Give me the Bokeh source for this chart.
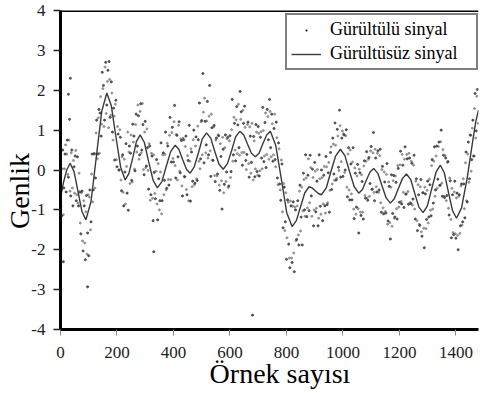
import numpy as np
from bokeh.plotting import figure
from bokeh.models import FixedTicker, Span, Legend, LegendItem, Range1d
from bokeh.embed import file_html
from bokeh.resources import INLINE

# ---------------- data ----------------
x_ticks = [0, 200, 400, 600, 800, 1000, 1200, 1400]
x_tick_labels = ["0", "200", "400", "600", "800", "1000", "1200", "1400"]
y_ticks = [-4, -3, -2, -1, 0, 1, 2, 3, 4]
y_tick_labels = ["-4", "-3", "-2", "-1", "0", "1", "2", "3", "4"]

# noise-free signal
clean_x = [0, 11, 22, 34, 48, 62, 76, 90, 108, 127, 146, 164, 180, 196, 213, 229,
           242, 256, 269, 282, 297, 312, 328, 343, 359, 374, 390, 406, 419, 432, 446, 459,
           473, 488, 502, 517, 532, 546, 561, 576, 591, 606, 620, 635, 649, 662, 676, 690,
           703, 716, 730, 743, 762, 782, 801, 820, 835, 850, 865, 880, 891, 902, 913, 924,
           941, 957, 974, 991, 1007, 1023, 1040, 1056, 1069, 1082, 1096, 1109, 1124, 1138,
           1153, 1168, 1182, 1196, 1211, 1225, 1240, 1254, 1269, 1284, 1299, 1314, 1330,
           1345, 1359, 1373, 1388, 1402, 1420, 1440, 1460, 1470, 1480]
clean_y = [-0.7, -0.3, 0.0, 0.17, -0.04, -0.54, -1.04, -1.25, -0.79, 0.34, 1.47, 1.93,
           1.61, 0.84, 0.07, -0.25, -0.09, 0.31, 0.72, 0.88, 0.69, 0.21, -0.26, -0.45,
           -0.29, 0.08, 0.46, 0.62, 0.52, 0.27, 0.02, -0.08, 0.07, 0.42, 0.78, 0.93,
           0.80, 0.47, 0.15, 0.02, 0.16, 0.49, 0.83, 0.97, 0.88, 0.65, 0.42, 0.33,
           0.42, 0.65, 0.88, 0.97, 0.62, -0.23, -1.07, -1.42, -1.27, -0.92, -0.57, -0.42,
           -0.45, -0.52, -0.59, -0.62, -0.45, -0.05, 0.35, 0.52, 0.36, -0.03, -0.42, -0.58,
           -0.49, -0.27, -0.05, 0.04, -0.09, -0.39, -0.70, -0.83, -0.72, -0.47, -0.21, -0.1,
           -0.24, -0.58, -0.93, -1.07, -0.90, -0.48, -0.05, 0.12, -0.07, -0.54, -1.02, -1.21,
           -0.95, -0.2, 0.75, 1.2, 1.5]

# noisy signal, samples 0, 4, 8, ...
noisy_a_y = [
    -0.4, -1.15, 0.5, -0.45, 0.4,   -0.55, 0.75, -0.18, 1.27, -0.65,
    0.5, -0.9, 0.08, 0.35, -0.77,   0.33, -0.9, -0.55, -1.6, -0.53,
    -2.03, -0.9, -2.25, -0.64, -1.58,   -2.15, -0.5, -1.3, 0.4, -0.5,
    0.41, -0.2, 1.25, 0.4, 1.52,   1.43, 0.85, 2.45, 2.12, 1.25,
    2.7, 1.63, 2.5, 2.72, 1.32,   2.21, 0.95, 1.55, 0.25, 1.75,
    0.08, 0.9, 0.0, 0.82, -0.52,   0.38, -0.9, -0.05, 0.66, -0.58,
    -1.01, 0.6, 0.42, -0.26, 1.15,   0.85, -0.02, 1.4, 0.6, 1.36,
    0.38, 1.66, 0.5, 1.14, -0.12,   1.22, 0.1, 0.56, -0.48, 0.6,
    -0.62, 0.35, -1.27, -0.06, -0.72,   0.26, -1.25, -0.22, -0.77, 0.68,
    -0.77, 0.43, -0.26, 0.95, -0.46,   0.6, -0.38, 1.32, 0.2, 1.07,
    0.2, 1.62, -0.2, 0.87, 0.33,   1.21, -0.07, 0.74, -0.65, 0.76,
    -0.17, 0.85, -0.62, 0.24, 1.12,   -0.78, 0.45, -0.28, 1.0, -0.33,
    0.83, -0.26, 0.76, 1.68, 0.28,   1.24, 2.42, 0.18, 1.22, 0.63,
    1.72, 0.38, 2.12, -0.16, 1.06,   0.24, 1.12, -0.29, 0.8, -0.1,
    0.86, -0.51, 0.34, -0.98, 0.52,   -0.36, 0.88, -0.05, 0.82, -0.4,
    0.86, -0.04, 1.77, 0.38, 1.17,   0.23, 1.59, 1.13, 0.56, 1.97,
    1.46, 0.12, 1.17, 1.6, 0.24,   0.39, 1.2, -0.18, 0.85, 0.19,
    -3.64, 0.84, -0.17, 1.14, -0.04,   1.09, -0.15, 0.82, 0.3, 1.57,
    0.21, 1.19, 0.06, 1.52, 0.76,   1.77, 0.56, 1.4, 0.22, 1.04,
    0.26, 1.2, -0.2, 0.68, -0.35,   -0.76, 0.15, -1.45, -0.43, -1.3,
    -2.24, -0.75, -1.86, -2.45, -0.9,   -2.32, -0.8, -2.55, -1.0, -1.74,
    -0.77, -1.88, -0.38, -1.18, -1.88,   -0.08, -1.0, 0.38, -1.17, -0.13,
    -1.02, 0.37, -0.65, 0.02, -1.4,   0.19, -1.05, -0.28, -1.4, 0.38,
    -0.91, 0.0, -1.27, -0.13, -0.9,   0.34, -0.87, -0.07, -1.06, 0.44,
    -0.49, 0.8, -0.1, 1.18, -0.25,   1.02, 0.07, 1.5, -0.18, 0.8,
    -0.16, 0.88, 0.0, 1.01, -0.67,   0.56, -0.75, 0.15, -0.75, 0.56,
    -1.22, -0.08, -0.93, 0.14, -1.58,   -0.07, -1.14, -0.29, -1.23, 0.23,
    -0.71, 0.46, -0.76, 0.31, -0.34,   0.59, -0.48, 0.94, -0.77, 0.3,
    -0.55, 0.48, -0.5, 0.52, -1.06,   0.09, -1.1, -0.3, -1.08, 0.16,
    -1.28, -0.41, -1.73, -0.12, -1.09,   -0.14, -1.18, -0.31, -1.23, 0.04,
    -0.81, 0.47, -0.85, 0.12, -0.94,   0.58, -0.6, 0.28, -0.86, 0.3,
    -0.84, 0.17, -0.73, 0.37, -1.23,   -0.22, -1.52, -0.62, -1.39, -0.24,
    -1.66, -0.57, -1.95, -0.6, -1.24,   -0.28, -1.18, -0.37, -1.15, 0.26,
    -0.83, 0.58, -0.5, 0.6, -0.23,   0.7, -0.38, 1.0, -0.66, 0.37,
    -0.69, 0.3, -0.64, 0.21, -1.13,   -0.27, -1.7, -0.62, -1.62, -0.28,
    -1.71, -0.58, -2.0, -0.62, -1.4,   -0.35, -1.3, -0.35, -1.2, 0.45,
    -0.8, 0.7, -0.22, 0.87, 0.26,   1.25, 0.35, 1.92, 0.98, 2.02,
]
# noisy signal, samples 2, 6, 10, ...
noisy_b_y = [
    -0.92, 0.03, -1.12, 0.03, 0.63,   0.4, -0.11, 0.75, -0.53, 0.43,
    -0.45, 0.24, -0.58, 0.49, -0.62,   -0.83, -0.08, -1.33, -0.57, -1.78,
    -0.77, -1.83, -1.05, -2.11, -0.62,   -0.68, -1.5, -0.1, -0.8, 0.4,
    -0.45, 0.93, 0.28, 1.31, 0.42,   1.84, 1.15, 2.04, 1.09, 2.58,
    1.42, 2.22, 1.06, 2.27, 1.37,   1.93, 0.75, 1.35, 1.65, 0.26,
    1.09, 0.0, 1.01, -0.25, 0.33,   -0.56, 0.27, -0.85, 0.09, 0.95,
    0.45, -0.34, 0.88, -0.3, 0.7,   0.02, 1.14, 0.45, 1.63, 0.27,
    1.47, 0.43, 1.67, 0.01, 0.95,   0.06, 1.03, -0.01, 0.66, -0.76,
    0.42, -0.71, 0.38, -0.59, -0.03,   -0.85, 0.16, -1.0, -0.05, -1.1,
    0.38, -0.62, 0.39, -0.5, 0.67,   -0.24, 0.87, -0.24, 0.94, 0.29,
    1.21, 0.11, 0.89, -0.25, 1.12,   -0.03, 0.78, -0.4, 0.8, -0.16,
    0.59, -0.49, 0.36, -0.77, 0.22,   0.53, -0.42, 0.76, -0.37, 0.6,
    -0.22, 1.1, 0.22, 0.03, 1.21,   0.38, 1.45, 1.8, 0.43, 1.23,
    0.3, 1.35, 0.48, 1.4, 0.25,   1.08, -0.14, 0.75, -0.15, 0.88,
    -0.38, 0.66, -0.27, 0.82, -0.57,   0.56, -0.29, 0.78, -0.44, 0.73,
    -0.19, 1.01, 0.22, 1.32, 0.5,   1.26, 0.41, 1.65, 0.37, 1.27,
    0.44, 1.5, 0.44, 1.07, 0.01,   1.14, 0.16, 1.08, -0.08, 1.17,
    -0.25, 0.73, 0.03, 0.95, -0.13,   0.92, -0.02, 0.96, 0.03, 0.99,
    0.35, 1.43, 0.39, 1.34, 0.27,   1.47, 0.33, 1.16, 0.38, 1.4,
    0.08, 0.81, -0.37, 0.53, -0.5,   0.25, -1.05, -0.34, -1.52, -0.57,
    -1.7, -0.81, -2.21, -0.78, -2.21,   -0.91, -2.08, -0.93, -1.77, -0.9,
    -1.63, -0.53, -1.53, -0.43, -1.03,   -0.24, -1.16, -0.2, -0.95, 0.28,
    -0.82, 0.06, -1.16, -0.19, -1.0,   -0.03, -0.96, 0.01, -1.21, -0.22,
    -1.11, -0.19, -0.85, 0.09, -1.08,   0.08, -0.82, 0.19, -0.51, 0.58,
    -0.35, 0.65, -0.26, 0.62, -0.21,   0.85, -0.01, 1.11, 0.21, 0.98,
    0.91, -0.06, 0.86, -0.43, 0.4,   -0.5, 0.5, -0.6, 0.2, -0.98,
    0.05, -1.11, -0.15, -0.97, 0.02,   -1.06, -0.12, -1.06, 0.1, -0.64,
    0.22, -0.7, 0.27, -0.66, 0.48,   -0.49, 0.43, -0.56, 0.52, -0.42,
    0.42, -0.56, 0.36, -0.82, 0.01,   -0.95, -0.05, -1.04, -0.11, -1.36,
    -0.3, -1.32, -0.43, -1.41, -0.27,   -1.21, -0.15, -0.97, 0.11, -0.93,
    0.13, -0.79, 0.39, -0.56, 0.27,   -0.61, 0.39, -0.54, 0.42, -0.82,
    0.22, -0.88, 0.12, -0.98, -0.28,   -1.27, -0.37, -1.36, -0.42, -1.55,
    -0.57, -1.46, -0.43, -1.47, -0.51,   -1.33, -0.23, -1.01, 0.11, -0.98,
    0.22, -0.66, 0.35, -0.46, 0.59,   -0.39, 0.71, -0.33, 0.51, -0.66,
    0.36, -0.77, 0.19, -0.96, -0.2,   -1.24, -0.46, -1.57, -0.55, -1.6,
    -0.7, -1.64, -0.66, -1.59, -0.4,   -1.38, -0.22, -0.97, 0.18, -0.77,
    0.4, -0.31, 0.88, -0.03, 1.05,   0.35, 1.54, 0.8, 1.85, 1.17,
]
noisy_a_x = list(np.arange(len(noisy_a_y)) * 4)
noisy_b_x = list(np.arange(len(noisy_b_y)) * 4 + 2)

# a few isolated outliers
outlier_x = [10, 35, 28, 96, 330]
outlier_y = [-2.3, 2.3, 1.9, -2.93, -2.05]

legend_labels = ["Gürültülü sinyal", "Gürültüsüz sinyal"]
x_title = "Örnek sayısı"
y_title = "Genlik"

SERIF = "Liberation Serif"
NBSP = "\u00a0"

# ---------------- figure ----------------
p = figure(width=480, height=393, output_backend="svg", toolbar_location=None,
           x_range=Range1d(0, 1480), y_range=Range1d(-4, 4),
           min_border_left=60, min_border_right=2, min_border_top=10,
           min_border_bottom=64)
p.outline_line_color = None
p.xgrid.visible = False
p.ygrid.visible = False
p.background_fill_color = "white"

p.scatter(noisy_b_x, noisy_b_y, size=2.0, color="#8c8c8c", alpha=0.9)
p.scatter(noisy_a_x + outlier_x, noisy_a_y + outlier_y, size=2.1,
          color="#3a3a3a", alpha=0.8)
r_line = p.line(clean_x, clean_y, line_color="#3a3a3a", line_width=1.4)
# legend key only (no visible data point)
r_dot_key = p.scatter([float("nan")], [float("nan")], marker="dot", size=10,
                      color="black")

for ax, ticks, labels in ((p.xaxis[0], x_ticks, x_tick_labels),
                          (p.yaxis[0], y_ticks, y_tick_labels)):
    ax.ticker = FixedTicker(ticks=ticks)
    ax.major_label_overrides = {t: l for t, l in zip(ticks, labels)}
    ax.axis_line_width = 3
    ax.axis_line_color = "black"
    ax.minor_tick_line_color = None
    ax.major_tick_in = 0
    ax.major_label_text_font = SERIF
    ax.major_label_text_font_size = "17px"
    ax.major_label_text_color = "#222222"
    ax.axis_label_text_font = SERIF
    ax.axis_label_text_font_style = "normal"
    ax.axis_label_text_color = "black"

p.yaxis.major_tick_out = 7
p.yaxis.major_tick_line_width = 1.5
p.yaxis.major_tick_line_color = "#222222"
p.yaxis.major_label_standoff = 8
p.yaxis.axis_label = y_title + NBSP * 6
p.yaxis.axis_label_text_font_size = "28px"
p.yaxis.axis_label_standoff = -7

p.xaxis.major_tick_out = 6
p.xaxis.major_tick_line_width = 1
p.xaxis.major_tick_line_color = "#888888"
p.xaxis.major_label_standoff = 11
p.xaxis.axis_label = NBSP * 3 + x_title
p.xaxis.axis_label_text_font_size = "28px"
p.xaxis.axis_label_standoff = -3

p.add_layout(Span(location=4, dimension="width", line_color="black", line_width=3))

legend = Legend(items=[LegendItem(label=legend_labels[0], renderers=[r_dot_key]),
                       LegendItem(label=legend_labels[1], renderers=[r_line])],
                location=(225, 259), orientation="vertical",
                border_line_color="black", border_line_width=2,
                background_fill_color="white", background_fill_alpha=1,
                padding=4, spacing=3, margin=0,
                glyph_width=30, glyph_height=20, label_standoff=9,
                label_width=142, label_height=20,
                label_text_font=SERIF, label_text_font_size="18px",
                label_text_color="black")
p.add_layout(legend)

open("out.html", "w").write(file_html(p, INLINE))
